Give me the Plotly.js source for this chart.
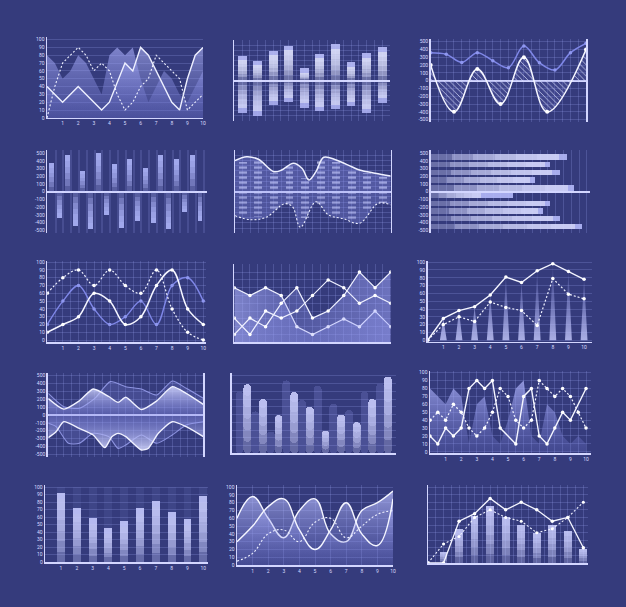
<!DOCTYPE html>
<html><head><meta charset="utf-8">
<script src="https://cdn.plot.ly/plotly-3.0.1.min.js"></script>
<style>html,body{margin:0;padding:0;background:#353b7c;}#chart{width:626px;height:607px;}</style>
</head><body><div id="chart"></div>
<script>
// ---------- DATA ----------
// chart 1 (area / lines, 0-100)
const c1X=[0,0.5,1,1.5,2,2.5,3,3.5,4,4.5,5,5.5,6,6.5,7,7.5,8,8.5,9,9.5,10];
const c1Area=[80,70,50,60,80,70,50,30,80,90,80,90,50,20,40,60,50,30,20,40,60];
const c1Dash=[0,40,70,80,90,80,60,70,60,30,10,20,40,50,80,70,60,50,10,20,30];
const c1SX=[0,1,2,3.5,4,5,5.5,6,6.5,8,8.5,9,9.5,10];
const c1SY=[40,20,40,10,20,70,60,90,80,20,10,50,80,90];
// chart 2 (up/down bars)
const c2Idx=[1,2,3,4,5,6,7,8,9,10];
const c2Up=[302,244,364,430,151,327,447,225,336,410];
const c2Down=[-398,-435,-302,-269,-336,-377,-352,-315,-405,-274];
// chart 3 (hatched wave)
const c3WX=[0,1.5,3,4.5,6,7.5,10];
const c3WY=[200,-400,150,-300,300,-400,400];
const c3BX=[0,1,2,3,4,5,6,7,8,9,10];
const c3BY=[360,340,235,360,256,167,444,230,137,360,480];
// chart 4 (alternating bars)
const c4Up=[370,478,270,500,357,422,313,483,422,483];
const c4Down=[-339,-443,-491,-304,-478,-378,-404,-491,-270,-383];
// chart 5 (striped areas)
const c5TX=[0,0.75,1.5,2.5,3,3.75,4.3,4.75,5.2,5.7,6.5,7.5,8,9,10];
const c5TY=[388,437,405,250,271,355,292,146,250,430,396,312,271,230,196];
const c5BX=[0,1,2,3.2,3.7,4.2,5.2,6,7,8,9.2,10];
const c5BY=[-300,-350,-320,-150,-190,-445,-125,-290,-340,-395,-145,-165];
const c5ColX=[0.5,1.5,2.5,3.5,4.5,5.5,6.5,7.5,8.5,9.5];
const c5ColUp=[370,380,230,320,170,380,370,290,230,180];
const c5ColDn=[-300,-320,-240,-170,-330,-160,-290,-350,-220,-140];
// chart 6 (horizontal bars)
const c6Y=[450,350,250,150,50,-50,-150,-250,-350,-450];
const c6Len=[17.5,15.3,16.5,13.4,18.4,10.5,15.3,14.4,16.6,19.4];
const c6Cap=[16.4,14.7,15.5,12.7,17.6,6.4,14.7,13.8,15.6,18.5];
// chart 7 (three splines)
const c7X=[0,1,2,3,4,5,6,7,8,9,10];
const c7Dash=[60,80,90,70,90,70,60,90,40,10,0];
const c7White=[10,20,30,60,50,20,30,70,90,40,20];
const c7Blue=[20,50,70,40,20,30,50,20,70,80,50];
// chart 8 (three polylines)
const c8X=[0,1,2,3,4,5,6,7,8,9,10];
const c8A=[70,60,70,60,20,10,20,30,20,40,20];
const c8B=[31,10,40,31,40,60,80,70,50,60,50];
const c8C=[10,31,20,50,70,31,40,60,90,70,90];
// chart 9 (lines with cones)
const c9X=[0,1,2,3,4,5,6,7,8,9,10];
const c9Solid=[0,28,38,43,58,81,74,89,98,88,78];
const c9Dash=[0,20,30,24,49,42,38,19,79,59,53];
// chart 10 (mirrored areas)
const c10UX=[0,1,2,2.9,3.9,4.5,5,6,7,8,8.9,10];
const c10UY=[210,75,180,330,235,160,225,70,180,360,275,135];
const c10U2X=[0,1,2,3,4,5,6,7,8,8.9,10];
const c10U2Y=[275,106,85,212,424,360,330,254,432,339,212];
const c10DX=[0,0.5,1,2,2.9,3.65,4.1,4.5,5,6,6.45,7.1,8,8.9,10];
const c10DY=[-288,-212,-85,-170,-254,-415,-275,-233,-275,-445,-424,-233,-85,-148,-275];
const c10D2X=[0,0.5,1.3,2,2.9,3.9,4.5,5,6,7,8,8.9,10];
const c10D2Y=[-106,-148,-360,-360,-233,-275,-424,-381,-254,-360,-254,-127,-85];
// chart 11 (rounded bars)
const c11Idx=[1,2,3,4,5,6,7,8,9,10];
const c11Front=[89,70,49,79,60,29,50,40,70,99];
const c11Back=[79,54,28,94,69,87,64,56,79,90];
// chart 12 (zigzag)
const c12SX=[0,0.5,1,1.5,2,2.5,3,3.5,4,4.5,5.5,6,6.5,7,7.5,8,8.5,9,10];
const c12SY=[20,10,30,20,30,80,90,80,90,30,10,70,80,20,10,30,50,40,80];
const c12X=[0,0.5,1,1.5,2,2.5,3,3.5,4,4.5,5,5.5,6,6.5,7,7.5,8,8.5,9,9.5,10];
const c12DY=[40,50,40,60,50,30,20,30,50,80,70,40,30,40,90,80,70,80,70,50,30];
const c12AY=[80,70,60,80,70,10,60,70,20,10,40,80,90,20,10,60,50,20,10,20,10];
// chart 13 (bars)
const c13Idx=[1,2,3,4,5,6,7,8,9,10];
const c13Val=[92,72,59,46,55,72,82,67,58,88];
// chart 14 (smooth waves)
const c14X=[0,1,2,3,4,5,6,7,8,9,10];
const c14A=[60,88,60,35,70,85,40,30,70,80,95];
const c14B=[30,50,75,85,45,20,45,80,40,25,85];
const c14C=[5,15,40,45,30,55,60,35,50,65,70];
// chart 15 (bars + lines)
const c15Idx=[1,2,3,4,5,6,7,8,9,10];
const c15Bar=[15,45,62,75,60,50,40,50,42,18];
const c15L1=[0,55,65,85,70,80,70,55,60,20];
const c15L2=[25,35,60,70,60,55,40,45,60,80];

// ---------- HELPERS ----------
const W=626,H=607;
const BG='#353b7c';
const LINE='#d3d6ff';
const GRID='rgba(165,172,255,0.22)';
const TF={family:'Roboto, "DejaVu Sans", sans-serif',size:5,color:'#d8dbff'};
const layout={width:W,height:H,margin:{l:0,r:0,t:0,b:0},paper_bgcolor:BG,plot_bgcolor:'rgba(0,0,0,0)',showlegend:false,barmode:'overlay',bargap:0};
const traces=[];
function axes(n,xpx,xr,ypx,yr,xo,yo){
  const s=n===1?'':String(n);
  layout['xaxis'+s]=Object.assign({domain:[xpx[0]/W,xpx[1]/W],range:xr,anchor:'y'+s,showgrid:false,zeroline:false,showline:false,showticklabels:false,ticks:'',tickfont:TF,fixedrange:true,gridcolor:GRID,gridwidth:1,linecolor:LINE,linewidth:1.5},xo||{});
  layout['yaxis'+s]=Object.assign({domain:[1-ypx[0]/H,1-ypx[1]/H],range:yr,anchor:'x'+s,showgrid:false,zeroline:false,showline:false,showticklabels:false,ticks:'',tickfont:TF,fixedrange:true,gridcolor:GRID,gridwidth:1,linecolor:LINE,linewidth:1.5,zerolinecolor:LINE,zerolinewidth:2},yo||{});
}
function ref(n){const s=n===1?'':String(n);return {xaxis:'x'+s,yaxis:'y'+s};}
function sc(n,x,y,o){traces.push(Object.assign({type:'scatter',mode:'lines',x:x,y:y,hoverinfo:'skip',line:{color:'#ffffff',width:1.2}},ref(n),o||{}));}
// gradient bar: from lo (faint) to hi (bright)
function gbar(n,pos,lo,hi,o){
  const L=o.layers||6;
  for(let j=0;j<L;j++){
    const f=j/L;
    const base=lo.map((b,i)=>b+(hi[i]-b)*f);
    const len=hi.map((h,i)=>(h-lo[i])*(1-f));
    const t={type:'bar',base:base,width:o.width,hoverinfo:'skip',marker:{color:o.color,line:{width:0}}};
    if(o.radius) t.marker.cornerradius=o.radius;
    if(o.h){t.orientation='h';t.x=len;t.y=pos;} else {t.x=pos;t.y=len;}
    traces.push(Object.assign(t,ref(n)));
  }
}
function sbar(n,pos,lo,hi,o){
  const len=hi.map((h,i)=>h-lo[i]);
  const t={type:'bar',base:lo,width:o.width,hoverinfo:'skip',marker:{color:o.color,line:{width:0}}};
  if(o.radius) t.marker.cornerradius=o.radius;
  if(o.pattern) t.marker.pattern=o.pattern;
  if(o.h){t.orientation='h';t.x=len;t.y=pos;} else {t.x=pos;t.y=len;}
  traces.push(Object.assign(t,ref(n)));
}
function vgrad(a,b,c0,c1){return {type:'vertical',start:a,stop:b,colorscale:[[0,c0],[1,c1]]};}
const pmTicks=[500,400,300,200,100,0,-100,-200,-300,-400,-500];
const pmText=pmTicks.map(v=>String(v));
const t100=[0,10,20,30,40,50,60,70,80,90,100];
const t1_10=[1,2,3,4,5,6,7,8,9,10];
const zeros=a=>a.map(()=>0);

// ---------- CHART 1 ----------
axes(1,[47,203],[0,10],[117.9,37.2],[0,103],
 {showline:true,showticklabels:true,tickvals:t1_10},
 {showline:true,showgrid:true,showticklabels:true,tickvals:t100});
sc(1,c1X,c1Area,{line:{width:0},fill:'tozeroy',fillcolor:'rgba(150,156,240,0.35)',fillgradient:vgrad(0,90,'rgba(110,116,210,0.25)','rgba(175,180,255,0.6)')});
sc(1,c1SX,c1SY,{fill:'tozeroy',fillcolor:'rgba(150,156,240,0.3)',fillgradient:vgrad(0,90,'rgba(110,116,210,0.15)','rgba(185,190,255,0.55)'),line:{color:'#eef0ff',width:1.4}});
sc(1,c1X,c1Dash,{line:{color:'#eef0ff',width:1.1,dash:'2px,2px'}});

// ---------- CHART 2 ----------
axes(2,[234.3,389.9],[0,20],[121,40],[-500,500],
 {showgrid:true,dtick:1,tick0:0},
 {showgrid:true,dtick:62.5,tick0:0,zeroline:true,showline:true});
{
 const p=c2Idx.map(i=>2*i-1);
 const capU=c2Up.map(v=>v-55), capD=c2Down.map(v=>v+55);
 gbar(2,p,zeros(p),capU,{width:1.15,color:'rgba(225,228,255,0.32)'});
 sbar(2,p,capU,c2Up,{width:1.15,color:'rgba(185,190,250,0.9)'});
 gbar(2,p,zeros(p),capD,{width:1.15,color:'rgba(215,218,255,0.3)'});
 sbar(2,p,capD,c2Down,{width:1.15,color:'rgba(175,180,245,0.88)'});
}

// ---------- CHART 3 ----------
axes(3,[430.7,586],[0,10],[122,39.4],[-530,530],
 {showgrid:true,dtick:0.5,tick0:0},
 {showgrid:true,tickvals:pmTicks,ticktext:pmText,showticklabels:true,zeroline:true,showline:true,mirror:true});
sc(3,c3WX,c3WY,{mode:'lines+markers',line:{color:'#f4f5ff',width:1.5,shape:'spline',smoothing:1.1},marker:{size:4,color:'#ffffff'},fill:'tozeroy',fillcolor:'rgba(0,0,0,0)',fillpattern:{shape:'\\',fgcolor:'rgba(225,228,255,0.85)',bgcolor:'rgba(90,96,180,0.25)',size:4,solidity:0.2}});
sc(3,c3BX,c3BY,{mode:'lines+markers',line:{color:'#7f87e8',width:1.5,shape:'spline',smoothing:1},marker:{size:3.5,color:'#8f97f0'}});

// ---------- CHART 4 ----------
axes(4,[47.3,206.7],[-0.564,19.87],[233.2,150.2],[-540,540],
 {showgrid:true,tick0:0.5,dtick:1,gridcolor:'rgba(165,172,255,0.16)',gridwidth:2},
 {showline:true,tickvals:pmTicks,ticktext:pmText,showticklabels:true,zeroline:true});
{
 const pu=c4Up.map((v,i)=>2*i), pd=c4Down.map((v,i)=>2*i+1);
 gbar(4,pu,zeros(pu),c4Up,{width:0.62,color:'rgba(180,185,255,0.28)'});
 gbar(4,pd,zeros(pd),c4Down,{width:0.62,color:'rgba(180,185,255,0.28)'});
}

// ---------- CHART 5 ----------
axes(5,[235,390.7],[0,10],[233.3,150.1],[-520,520],
 {showgrid:true,dtick:0.5,tick0:0},
 {showgrid:true,dtick:65,tick0:0,zeroline:true,showline:true,mirror:true});
sc(5,c5TX,c5TY,{fill:'tozeroy',fillcolor:'rgba(140,146,235,0.35)',line:{color:'#eef0ff',width:1.5,shape:'spline',smoothing:1}});
sc(5,c5BX,c5BY,{fill:'tozeroy',fillcolor:'rgba(140,146,235,0.3)',line:{color:'#eef0ff',width:1.1,dash:'2px,2px',shape:'spline',smoothing:1}});
sbar(5,c5ColX,zeros(c5ColX),c5ColUp,{width:0.5,color:'rgba(0,0,0,0)',pattern:{shape:'-',fgcolor:'rgba(220,223,255,0.7)',bgcolor:'rgba(0,0,0,0)',size:5,solidity:0.45}});
sbar(5,c5ColX,zeros(c5ColX),c5ColDn,{width:0.5,color:'rgba(0,0,0,0)',pattern:{shape:'-',fgcolor:'rgba(220,223,255,0.6)',bgcolor:'rgba(0,0,0,0)',size:5,solidity:0.45}});

// ---------- CHART 6 ----------
axes(6,[430.7,590],[0,20.4],[233.2,150.2],[-540,540],
 {showgrid:true,dtick:1,tick0:0},
 {showline:true,tickvals:pmTicks,ticktext:pmText,showticklabels:true,zeroline:true});
gbar(6,c6Y,zeros(c6Y),c6Cap,{h:true,width:70,color:'rgba(215,218,255,0.33)'});
sbar(6,c6Y,c6Cap,c6Len,{h:true,width:70,color:'rgba(180,185,250,0.9)'});

// ---------- CHART 7 ----------
axes(7,[47.3,206.4],[0,10.2],[342.4,260.6],[-3,102],
 {showline:true,showticklabels:true,tickmode:'array',tickvals:t1_10,minor:{tickmode:'linear',tick0:0,dtick:0.5,showgrid:true,gridcolor:GRID,ticks:''}},
 {showline:true,showgrid:true,showticklabels:true,tickvals:t100});
sc(7,c7X,c7Blue,{mode:'lines+markers',line:{color:'#7f87e8',width:1.4,shape:'spline',smoothing:1},marker:{size:3.5,color:'#8f97f0'}});
sc(7,c7X,c7Dash,{mode:'lines+markers',line:{color:'#eef0ff',width:1.2,dash:'2px,2px',shape:'spline',smoothing:1},marker:{size:3.5,color:'#ffffff'}});
sc(7,c7X,c7White,{mode:'lines+markers',line:{color:'#f4f5ff',width:1.5,shape:'spline',smoothing:1},marker:{size:3.5,color:'#ffffff'}});

// ---------- CHART 8 ----------
axes(8,[234.3,390.7],[0,10],[342.3,264.3],[0,100],
 {showline:true,showgrid:true,dtick:0.5,tick0:0},
 {showline:true,showgrid:true,dtick:10,tick0:0});
sc(8,c8X,c8A,{mode:'lines+markers',fill:'tozeroy',fillcolor:'rgba(150,156,245,0.35)',fillgradient:{type:'horizontal',start:0,stop:10,colorscale:[[0,'rgba(175,180,255,0.6)'],[0.5,'rgba(140,146,235,0.3)'],[1,'rgba(140,146,235,0.25)']]},line:{color:'#eef0ff',width:1.2},marker:{size:3.5,color:'#fff'}});
sc(8,c8X,c8C,{mode:'lines+markers',fill:'tozeroy',fillcolor:'rgba(150,156,245,0.3)',fillgradient:{type:'horizontal',start:0,stop:10,colorscale:[[0,'rgba(140,146,235,0.15)'],[1,'rgba(165,170,255,0.5)']]},line:{color:'#eef0ff',width:1.2},marker:{size:3.5,color:'#fff'}});
sc(8,c8X,c8B,{mode:'lines+markers',line:{color:'#eef0ff',width:1.2},marker:{size:3.5,color:'#fff'}});

// ---------- CHART 9 ----------
axes(9,[427.7,591.9],[0,10.5],[341.8,260.6],[-2,102],
 {showline:true,showticklabels:true,tickvals:t1_10},
 {showline:true,showgrid:true,showticklabels:true,tickvals:t100});
{
 const cx=[],cy=[];
 c9X.forEach((x,i)=>{ if(c9Solid[i]>0){cx.push(x-0.22,x,x+0.22,null);cy.push(0,c9Solid[i],0,null);} });
 sc(9,cx,cy,{fill:'toself',line:{width:0},fillcolor:'rgba(180,185,255,0.35)',fillgradient:vgrad(0,100,'rgba(200,204,255,0.8)','rgba(150,156,240,0.05)')});
}
sc(9,c9X,c9Solid,{mode:'lines+markers',line:{color:'#f4f5ff',width:1.4},marker:{size:3.5,color:'#fff'}});
sc(9,c9X,c9Dash,{mode:'lines+markers',line:{color:'#eef0ff',width:1.2,dash:'2px,2px'},marker:{size:3.5,color:'#fff'}});

// ---------- CHART 10 ----------
axes(10,[48.3,203.3],[0,10],[456.7,373.3],[-530,530],
 {showgrid:true,dtick:0.5,tick0:0},
 {showline:true,mirror:true,linewidth:2,showgrid:true,dtick:100,tickvals:pmTicks,ticktext:pmText,showticklabels:true,zeroline:true});
sc(10,c10U2X,c10U2Y,{fill:'tozeroy',fillcolor:'rgba(140,146,235,0.2)',line:{color:'rgba(160,166,245,0.8)',width:1.1,shape:'spline',smoothing:0.6}});
sc(10,c10UX,c10UY,{fill:'tozeroy',fillcolor:'rgba(160,166,245,0.4)',fillgradient:vgrad(0,360,'rgba(130,136,230,0.25)','rgba(215,218,255,0.85)'),line:{color:'#f0f1ff',width:1.4,shape:'spline',smoothing:0.6}});
sc(10,c10D2X,c10D2Y,{fill:'tozeroy',fillcolor:'rgba(140,146,235,0.2)',line:{color:'rgba(160,166,245,0.8)',width:1.1,shape:'spline',smoothing:0.6}});
sc(10,c10DX,c10DY,{fill:'tozeroy',fillcolor:'rgba(160,166,245,0.4)',fillgradient:vgrad(0,-445,'rgba(130,136,230,0.25)','rgba(215,218,255,0.85)'),line:{color:'#f0f1ff',width:1.4,shape:'spline',smoothing:0.6}});

// ---------- CHART 11 ----------
axes(11,[231.7,395.8],[0,10.5],[453.3,373.4],[0,103],
 {showline:true,linewidth:2},
 {showline:true,showgrid:true,tickvals:[10,20,30,40,50,60,70,80,90,100]});
{
 const pb=c11Idx.map(i=>i-0.5);
 sbar(11,pb,zeros(pb),c11Back,{width:0.5,color:'rgba(150,156,240,0.22)',radius:4});
 gbar(11,c11Idx,zeros(c11Idx),c11Front,{width:0.5,color:'rgba(205,209,255,0.3)',radius:4});
}

// ---------- CHART 12 ----------
axes(12,[430,590.7],[0,10.3],[453.4,371.1],[-2,102],
 {showline:true,showticklabels:true,tickmode:'array',tickvals:t1_10,minor:{tickmode:'linear',tick0:0,dtick:0.5,showgrid:true,gridcolor:GRID,ticks:''}},
 {showline:true,showgrid:true,showticklabels:true,tickvals:t100});
sc(12,c12X,c12AY,{fill:'tozeroy',line:{width:0},fillcolor:'rgba(150,156,240,0.4)',fillgradient:vgrad(0,90,'rgba(120,126,220,0.2)','rgba(180,185,255,0.7)')});
sc(12,c12X,c12DY,{mode:'lines+markers',line:{color:'#eef0ff',width:1.2,dash:'2px,2px'},marker:{size:3.5,color:'#fff'}});
sc(12,c12SX,c12SY,{mode:'lines+markers',line:{color:'#f4f5ff',width:1.4},marker:{size:3.5,color:'#fff'}});

// ---------- CHART 13 ----------
axes(13,[45.2,208],[0,10.3],[562,484.8],[0,103],
 {showline:true,showticklabels:true,tickvals:t1_10},
 {showline:true,showgrid:true,showticklabels:true,tickvals:t100});
{
 const cap=c13Val.map(v=>v-8);
 sbar(13,c13Idx,zeros(c13Idx),c13Idx.map(()=>100),{width:0.5,color:'rgba(150,156,240,0.1)'});
 gbar(13,c13Idx,zeros(c13Idx),cap,{width:0.5,color:'rgba(205,209,255,0.28)'});
 sbar(13,c13Idx,cap,c13Val,{width:0.5,color:'rgba(195,199,252,0.9)'});
}

// ---------- CHART 14 ----------
axes(14,[237,393],[0,10],[565,484.8],[0,103],
 {showline:true,showticklabels:true,tickvals:t1_10,showgrid:true,dtick:0.5},
 {showline:true,showgrid:true,showticklabels:true,tickvals:t100});
sc(14,c14X,c14A,{fill:'tozeroy',fillcolor:'rgba(150,156,240,0.35)',fillgradient:vgrad(0,95,'rgba(120,126,220,0.15)','rgba(190,194,255,0.7)'),line:{color:'#f4f5ff',width:1.4,shape:'spline',smoothing:1.2}});
sc(14,c14X,c14B,{fill:'tozeroy',fillcolor:'rgba(150,156,240,0.3)',fillgradient:vgrad(0,95,'rgba(120,126,220,0.1)','rgba(190,194,255,0.6)'),line:{color:'#f4f5ff',width:1.4,shape:'spline',smoothing:1.2}});
sc(14,c14X,c14C,{line:{color:'#eef0ff',width:1.1,dash:'2px,2px',shape:'spline',smoothing:1.2}});

// ---------- CHART 15 ----------
axes(15,[428,588],[0,10.3],[563,484.8],[0,103],
 {showline:true,showgrid:true,dtick:0.5},
 {showline:true,showgrid:true,dtick:10});
gbar(15,c15Idx,zeros(c15Idx),c15Bar,{width:0.5,color:'rgba(205,209,255,0.28)'});
sc(15,[0].concat(c15Idx),[0].concat(c15L1),{mode:'lines+markers',line:{color:'#f4f5ff',width:1.3},marker:{size:3.5,color:'#fff'}});
sc(15,[0].concat(c15Idx),[0].concat(c15L2),{mode:'lines+markers',line:{color:'#eef0ff',width:1.1,dash:'2px,2px'},marker:{size:3,color:'#fff'}});

Plotly.newPlot('chart',traces,layout,{staticPlot:true,displayModeBar:false});
</script></body></html>
